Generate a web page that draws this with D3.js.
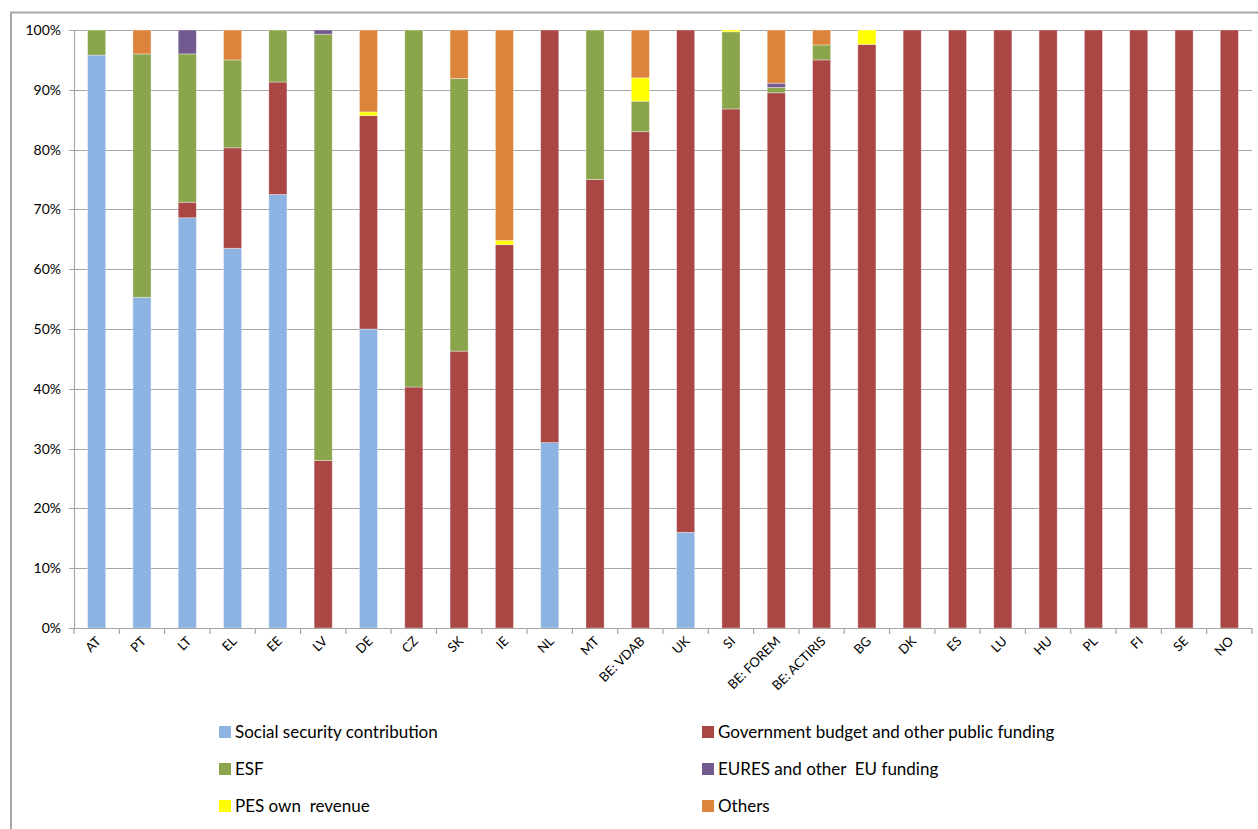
<!DOCTYPE html>
<html>
<head>
<meta charset="utf-8">
<script src="https://cdn.jsdelivr.net/npm/d3@7"></script>
<style>
  body { margin: 0; background: #fff; }
  text { font-family: Lato, "Open Sans", sans-serif; fill: #000; }
</style>
</head>
<body>
<svg id="chart" width="1258" height="829"></svg>
<script>
// categories (PES)
const categories = ["AT", "PT", "LT", "EL", "EE", "LV", "DE", "CZ", "SK", "IE", "NL", "MT",
  "BE: VDAB", "UK", "SI", "BE: FOREM", "BE: ACTIRIS", "BG", "DK", "ES", "LU", "HU", "PL", "FI", "SE", "NO"];

// series values, percent of budget
const social = [95.8, 55.3, 68.6, 63.5, 72.5, 0, 50, 0, 0, 0, 31, 0, 0, 16, 0, 0, 0, 0, 0, 0, 0, 0, 0, 0, 0, 0];
const government = [0, 0, 2.6, 16.8, 18.8, 28, 35.7, 40.3, 46.3, 64.1, 69, 75, 83, 84, 86.8, 89.5, 95, 97.6, 100, 100, 100, 100, 100, 100, 100, 100];
const esf = [4.2, 40.7, 24.8, 14.7, 8.7, 71.3, 0, 59.7, 45.6, 0, 0, 25, 5.1, 0, 12.9, 0.9, 2.5, 0, 0, 0, 0, 0, 0, 0, 0, 0];
const eures = [0, 0, 4, 0, 0, 0.7, 0, 0, 0, 0, 0, 0, 0, 0, 0, 0.7, 0, 0, 0, 0, 0, 0, 0, 0, 0, 0];
const pesOwn = [0, 0, 0, 0, 0, 0, 0.6, 0, 0, 0.7, 0, 0, 3.9, 0, 0.3, 0, 0, 2.4, 0, 0, 0, 0, 0, 0, 0, 0];
const others = [0, 4, 0, 5, 0, 0, 13.7, 0, 8.1, 35.2, 0, 0, 8, 0, 0, 8.9, 2.5, 0, 0, 0, 0, 0, 0, 0, 0, 0];

const seriesNames = ["Social security contribution", "Government budget and other public funding",
  "ESF", "EURES and other  EU funding", "PES own  revenue", "Others"];
const seriesKeys = ["social", "government", "esf", "eures", "pesOwn", "others"];
const colors = ["#8DB3E2", "#AA4644", "#8BA54D", "#72598F", "#FFFF00", "#DC843C"];
const yTicks = [0, 10, 20, 30, 40, 50, 60, 70, 80, 90, 100];

const rows = categories.map((c, i) => ({
  cat: c, social: social[i], government: government[i], esf: esf[i],
  eures: eures[i], pesOwn: pesOwn[i], others: others[i]
}));

const svg = d3.select("#chart");
const margin = { left: 74, right: 6, top: 30, bottom: 201 };
const W = 1258, H = 829;

// outer frame
svg.append("path")
  .attr("d", "M11,840 L11,12.5 L1270,12.5")
  .attr("fill", "none")
  .attr("stroke", "#A6A6A6")
  .attr("stroke-width", 2);

const x = d3.scaleBand()
  .domain(categories)
  .range([margin.left, W - margin.right])
  .paddingInner(0.6)
  .paddingOuter(0.3);

const y = d3.scaleLinear()
  .domain([0, 100])
  .range([H - margin.bottom, margin.top]);

// gridlines
svg.append("g")
  .selectAll("line")
  .data(yTicks)
  .join("line")
  .attr("x1", margin.left - 5)
  .attr("x2", W - margin.right)
  .attr("y1", d => Math.round(y(d)) + 0.5)
  .attr("y2", d => Math.round(y(d)) + 0.5)
  .attr("stroke", "#A6A6A6")
  .attr("stroke-width", 1.2);

// y labels
svg.append("g")
  .selectAll("text")
  .data(yTicks)
  .join("text")
  .attr("x", margin.left - 13)
  .attr("y", d => y(d) + 5)
  .attr("text-anchor", "end")
  .attr("font-size", 14)
  .text(d => d + "%");

// y axis line
svg.append("line")
  .attr("x1", margin.left + 0.5).attr("x2", margin.left + 0.5)
  .attr("y1", y(100)).attr("y2", y(0))
  .attr("stroke", "#A6A6A6").attr("stroke-width", 1.2);

// stacked bars
const stack = d3.stack().keys(seriesKeys);
const layers = stack(rows);

svg.append("g")
  .selectAll("g")
  .data(layers)
  .join("g")
  .attr("fill", (d, i) => colors[i])
  .selectAll("rect")
  .data(d => d.filter(p => p[1] - p[0] > 0))
  .join("rect")
  .attr("x", d => x(d.data.cat))
  .attr("width", x.bandwidth())
  .attr("y", d => y(d[1]))
  .attr("height", d => y(d[0]) - y(d[1]))
  .attr("stroke", "#ffffff")
  .attr("stroke-opacity", 0.45)
  .attr("stroke-width", 0.8);

// x axis
const boundaries = categories.map(c => x(c) - x.step() * x.paddingInner() / 2)
  .concat([W - margin.right]);
svg.append("line")
  .attr("x1", margin.left).attr("x2", W - margin.right)
  .attr("y1", Math.round(y(0)) + 0.5).attr("y2", Math.round(y(0)) + 0.5)
  .attr("stroke", "#A6A6A6").attr("stroke-width", 1.2);
svg.append("g")
  .selectAll("line")
  .data(boundaries)
  .join("line")
  .attr("x1", d => d).attr("x2", d => d)
  .attr("y1", y(0)).attr("y2", y(0) + 6)
  .attr("stroke", "#A6A6A6").attr("stroke-width", 1.2);

svg.append("g")
  .selectAll("text")
  .data(categories)
  .join("text")
  .attr("transform", d => `translate(${x(d) + x.bandwidth() / 2 + 5},${y(0) + 14}) rotate(-45)`)
  .attr("text-anchor", "end")
  .attr("font-size", 13)
  .text(d => d);

// legend
const legend = svg.append("g")
  .selectAll("g")
  .data(seriesNames)
  .join("g")
  .attr("transform", (d, i) => `translate(${i % 2 === 0 ? 219 : 702},${726 + Math.floor(i / 2) * 37})`);
legend.append("rect")
  .attr("width", 12).attr("height", 12)
  .attr("fill", (d, i) => colors[i]);
legend.append("text")
  .attr("x", 16).attr("y", 12)
  .attr("font-size", 17)
  .attr("xml:space", "preserve")
  .text(d => d);
</script>
</body>
</html>
